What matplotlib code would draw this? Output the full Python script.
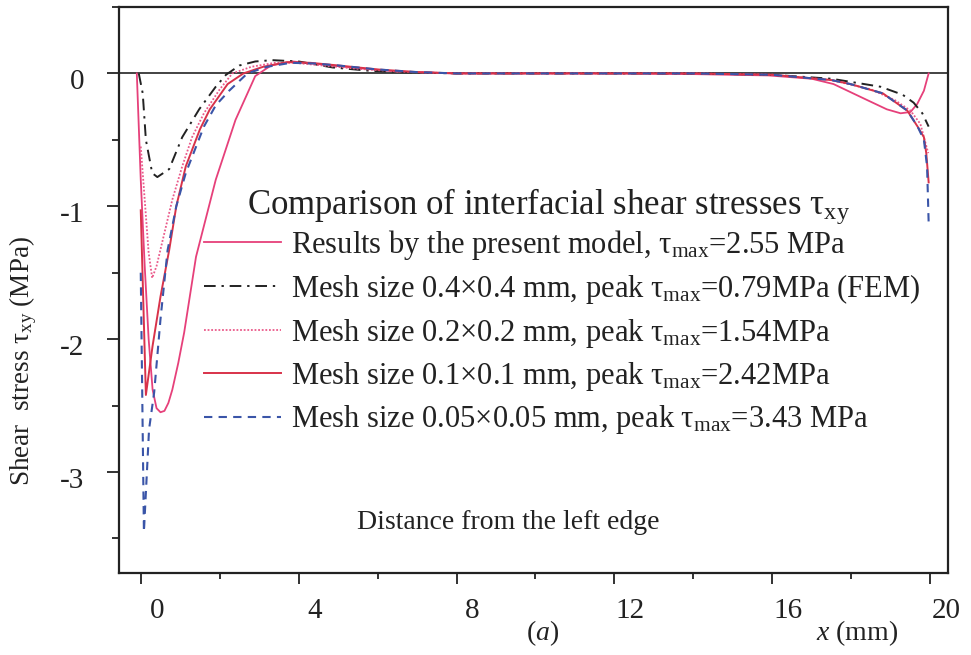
"""
Interfacial shear stress along the bond line: present model vs FEM meshes.
"""
import matplotlib
matplotlib.use("Agg")
import matplotlib.pyplot as plt
import matplotlib.transforms as mtransforms
from matplotlib.ticker import MultipleLocator

plt.rcParams["font.family"] = ["Liberation Serif", "DejaVu Serif"]
plt.rcParams["mathtext.fontset"] = "custom"
plt.rcParams["mathtext.rm"] = "Liberation Serif"
plt.rcParams["mathtext.it"] = "Liberation Serif:italic"

# ── data (x in mm, stress in MPa) ─────────────────────────────────────────────

model_x = [-0.1, 0.0, 0.1, 0.2, 0.3, 0.4, 0.5, 0.6, 0.7, 0.8, 0.95, 1.1, 1.4,
           1.9, 2.4, 2.9, 3.3, 3.85, 4.5, 5.5, 6.5, 8.0, 10.0, 12.0, 14.0,
           15.9, 17.0, 17.55, 18.4, 18.9, 19.25, 19.5, 19.67, 19.84, 19.96]
model_y = [0.0, -0.8, -1.45, -2.0, -2.38, -2.52, -2.55, -2.54, -2.48, -2.38,
           -2.18, -1.95, -1.38, -0.8, -0.35, -0.02, 0.06, 0.09, 0.07, 0.04,
           0.015, 0.0, 0.0, 0.0, -0.005, -0.015, -0.04, -0.08, -0.2, -0.27,
           -0.3, -0.29, -0.23, -0.13, 0.0]

mesh04_x = [-0.05, 0.05, 0.13, 0.29, 0.42, 0.72, 1.05, 1.48, 1.9, 2.16, 2.5,
            2.9, 3.33, 4.0, 4.86, 5.8, 6.56, 8.0, 10.0, 12.0, 14.0, 16.0,
            17.5, 18.74, 19.3, 19.58, 19.8, 19.96]
mesh04_y = [0.0, -0.15, -0.5, -0.75, -0.78, -0.72, -0.48, -0.27, -0.1, -0.01,
            0.06, 0.09, 0.1, 0.09, 0.045, 0.02, 0.01, 0.0, 0.0, 0.0, 0.0,
            -0.01, -0.04, -0.1, -0.16, -0.22, -0.3, -0.4]

mesh02_x = [0.0, 0.1, 0.2, 0.29, 0.4, 0.6, 0.8, 1.05, 1.3, 1.6, 2.0, 2.32,
            2.8, 3.4, 3.9, 4.6, 5.5, 6.5, 8.0, 10.0, 12.0, 14.0, 16.0, 17.5,
            18.5, 19.1, 19.5, 19.75, 19.95]
mesh02_y = [-0.55, -0.95, -1.35, -1.54, -1.45, -1.2, -0.95, -0.7, -0.48, -0.3,
            -0.12, 0.0, 0.05, 0.08, 0.08, 0.06, 0.035, 0.015, 0.0, 0.0, 0.0,
            0.0, -0.01, -0.05, -0.12, -0.2, -0.28, -0.38, -0.6]

mesh01_x = [0.0, 0.13, 0.3, 0.5, 0.72, 0.9, 1.14, 1.5, 1.75, 2.2, 2.6, 3.1,
            3.7, 4.3, 5.0, 6.0, 7.0, 8.0, 10.0, 12.0, 14.0, 16.0, 17.5, 17.98,
            18.8, 19.42, 19.68, 19.84, 19.9, 19.96]
mesh01_y = [-1.03, -2.42, -2.05, -1.68, -1.33, -1.0, -0.7, -0.42, -0.27,
            -0.08, 0.0, 0.05, 0.085, 0.08, 0.06, 0.03, 0.01, 0.0, 0.0, 0.0,
            0.0, -0.01, -0.05, -0.08, -0.15, -0.28, -0.4, -0.48, -0.6, -0.82]

mesh005_x = [0.0, 0.08, 0.21, 0.34, 0.5, 0.68, 0.9, 1.14, 1.6, 1.9, 2.24,
             2.7, 3.2, 3.8, 4.4, 5.0, 6.0, 7.0, 8.0, 10.0, 12.0, 14.0, 16.0,
             17.5, 17.98, 18.8, 19.42, 19.68, 19.84, 19.92, 19.96]
mesh005_y = [-1.5, -3.45, -2.68, -2.4, -1.85, -1.33, -1.0, -0.75, -0.4,
             -0.24, -0.13, 0.0, 0.05, 0.08, 0.075, 0.06, 0.03, 0.01, 0.0, 0.0,
             0.0, 0.0, -0.01, -0.05, -0.08, -0.15, -0.28, -0.4, -0.5, -0.7,
             -1.12]

labels = [
    r"Results by the present model, τ$_{\mathrm{max}}$=2.55 MPa",
    r"Mesh size 0.4×0.4 mm, peak τ$_{\mathrm{max}}$=0.79MPa (FEM)",
    r"Mesh size 0.2×0.2 mm, peak τ$_{\mathrm{max}}$=1.54MPa",
    r"Mesh size 0.1×0.1 mm, peak τ$_{\mathrm{max}}$=2.42MPa",
    r"Mesh size 0.05×0.05 mm, peak τ$_{\mathrm{max}}$=3.43 MPa",
]

# ── figure ────────────────────────────────────────────────────────────────────

fig = plt.figure(figsize=(9.71, 6.55), dpi=100)
ax = fig.add_axes([0.1226, 0.1252, 0.8537, 0.8641])

ax.axhline(0, color="#222222", lw=1.2, zorder=1)

ax.plot(model_x, model_y, color="#e6407a", lw=1.3, label=labels[0])
ax.plot(mesh04_x, mesh04_y, color="#222222", lw=1.4,
        dashes=(6, 3, 1.2, 3), label=labels[1])
ax.plot(mesh02_x, mesh02_y, color="#ea5a8a", lw=1.3, ls=(0, (1, 1)),
        label=labels[2])
ax.plot(mesh01_x, mesh01_y, color="#d8324a", lw=1.4, label=labels[3])
ax.plot(mesh005_x, mesh005_y, color="#3a55a8", lw=1.5, dashes=(4, 3),
        label=labels[4])

ax.set_xlim(-0.55, 20.45)
ax.set_ylim(-3.76, 0.50)

ax.xaxis.set_major_locator(MultipleLocator(4))
ax.xaxis.set_minor_locator(MultipleLocator(2))
ax.yaxis.set_minor_locator(MultipleLocator(0.5))
ax.set_yticks([-3, -2, -1, 0])
ax.set_yticklabels(["-3", "-2", "-1", "0"])

ax.tick_params(which="both", direction="out", top=False, right=False,
               width=1.3, labelsize=21, colors="#222222")
ax.tick_params(axis="x", which="major", length=8, pad=10)
ax.tick_params(axis="x", which="minor", length=4)
ax.tick_params(axis="y", which="major", length=9, pad=16)
ax.tick_params(axis="y", which="minor", length=5)

# the scanned labels sit a little off their ticks
shift_x = mtransforms.ScaledTranslation(0.16, 0, fig.dpi_scale_trans)
for lab in ax.get_xticklabels():
    lab.set_transform(lab.get_transform() + shift_x)
shift_y = mtransforms.ScaledTranslation(0, -0.06, fig.dpi_scale_trans)
for lab in ax.get_yticklabels():
    lab.set_transform(lab.get_transform() + shift_y)

for sp in ax.spines.values():
    sp.set_linewidth(1.6)
    sp.set_color("#222222")

fig.text(0.024, 0.449, r"Shear  stress τ$_{\mathrm{xy}}$ (MPa)", fontsize=19.5,
         color="#222222", rotation=90, ha="center", va="center")

ax.text(2.7, -1.0, r"Comparison of interfacial shear stresses τ$_{\mathrm{xy}}$",
        fontsize=25, color="#222222", va="center", ha="left")
ax.legend(loc="upper left", bbox_to_anchor=(0.103, 0.61), frameon=False,
          fontsize=22, handlelength=2.5, handletextpad=0.32,
          labelspacing=0.34, borderpad=0, borderaxespad=0,
          labelcolor="#222222")

ax.text(0.47, 0.09, "Distance from the left edge", transform=ax.transAxes,
        fontsize=20, color="#222222", ha="center", va="center")
fig.text(0.559, 0.033, r"($\mathit{a}$)", fontsize=20, color="#222222",
         ha="center", va="center")
fig.text(0.883, 0.033, r"$\mathit{x}$ (mm)", fontsize=20, color="#222222",
         ha="center", va="center")

fig.savefig("out.png", dpi=100)
